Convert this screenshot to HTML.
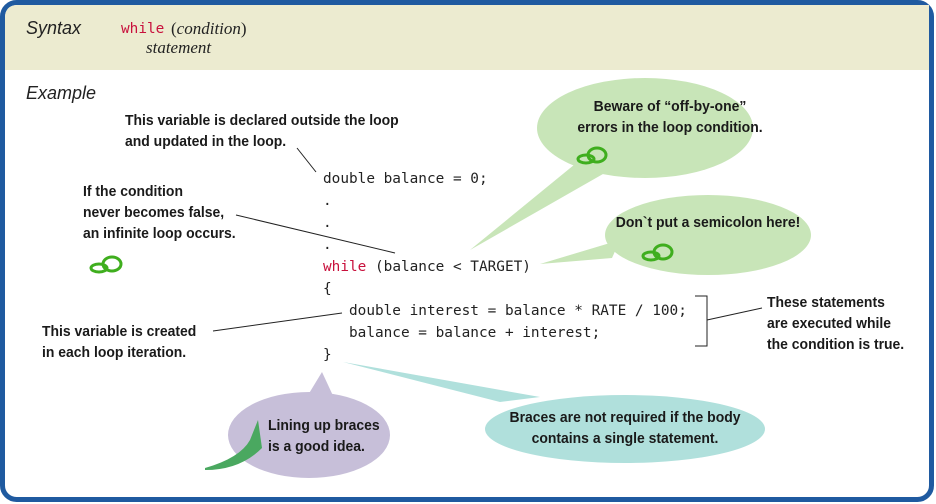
<!DOCTYPE html>
<html><head><meta charset="utf-8"><style>
body{margin:0;width:936px;height:504px;overflow:hidden;background:#fff;position:relative;font-family:"Liberation Sans",sans-serif}
.t{position:absolute;font-family:"Liberation Sans",sans-serif;font-weight:bold;font-size:15px;line-height:21px;color:#1a1a1a;white-space:nowrap;transform:scaleX(0.93);transform-origin:0 0}
.ct{text-align:center;transform-origin:50% 0}
.c{position:absolute;font-family:"DejaVu Sans Mono","Liberation Mono",monospace;font-size:14.4px;color:#222;white-space:pre}
.s{position:absolute;font-family:"Liberation Serif",serif;font-style:italic;font-size:17px;color:#222}
.h{position:absolute;font-family:"Liberation Sans",sans-serif;font-style:italic;font-size:18px;color:#222}
</style></head><body>
<svg width="936" height="504" style="position:absolute;left:0;top:0">
<rect x="2.5" y="2.5" width="929" height="497" rx="14" fill="#fff" stroke="#1f5aa0" stroke-width="5"/>
<path d="M5,70 V18 Q5,5 18,5 H929 V70 Z" fill="#ecebd0"/>
<g fill="#c8e5b8">
<ellipse cx="645" cy="128" rx="108" ry="50"/>
<polygon points="580,160 610,170 470,250"/>
<ellipse cx="708" cy="235" rx="103" ry="40"/>
<polygon points="620,240 612,258 540,264"/>
</g>
<g fill="#c7bfd9"><ellipse cx="309" cy="435" rx="81" ry="43"/><polygon points="305,400 335,400 322,372"/></g>
<g fill="#b0e0dc"><ellipse cx="625" cy="429" rx="140" ry="34"/><polygon points="343,362 500,402 540,397"/></g>
<g stroke="#222" stroke-width="1" fill="none">
<line x1="297" y1="148" x2="316" y2="172"/>
<line x1="236" y1="215" x2="395" y2="253"/>
<line x1="213" y1="331" x2="342" y2="313"/>
<path d="M695,296 H707 V346 H695"/>
<line x1="707" y1="320" x2="762" y2="308"/>
</g>
<g fill="none" stroke="#3fae1e" stroke-width="3">
<ellipse cx="597" cy="155" rx="9" ry="7"/><ellipse cx="586" cy="159" rx="8" ry="4"/>
<ellipse cx="663" cy="252" rx="9" ry="7"/><ellipse cx="651" cy="256" rx="8" ry="4"/>
<ellipse cx="112" cy="264" rx="9" ry="7"/><ellipse cx="99" cy="268" rx="8" ry="4"/>
</g>
<path d="M205,468 Q240,458 250,440 L258,420 L262,448 Q240,470 205,470Z" fill="#4aa860"/>
</svg>
<div class="h" style="left:26px;top:18px">Syntax</div>
<div class="c" style="left:121px;top:21px;color:#c8103c">while</div>
<div class="s" style="left:171px;top:19px;font-style:normal">(<i>condition</i>)</div>
<div class="s" style="left:146px;top:38px">statement</div>
<div class="h" style="left:26px;top:83px">Example</div>
<div class="t" style="left:125px;top:110px">This variable is declared outside the loop<br>and updated in the loop.</div>
<div class="t" style="left:83px;top:181px">If the condition<br>never becomes false,<br>an infinite loop occurs.</div>
<div class="t" style="left:42px;top:321px">This variable is created<br>in each loop iteration.</div>
<div class="t" style="left:767px;top:292px">These statements<br>are executed while<br>the condition is true.</div>
<div class="t ct" style="left:545px;width:250px;top:96px">Beware of “off-by-one”<br>errors in the loop condition.</div>
<div class="t ct" style="left:608px;width:200px;top:212px">Don`t put a semicolon here!</div>
<div class="t" style="left:268px;top:415px">Lining up braces<br>is a good idea.</div>
<div class="t ct" style="left:485px;width:280px;top:407px">Braces are not required if the body<br>contains a single statement.</div>
<div class="c" style="left:323px;top:168px;line-height:22px">double balance = 0;
.
.
.
<span style="color:#c8103c">while</span> (balance &lt; TARGET)
{
   double interest = balance * RATE / 100;
   balance = balance + interest;
}</div>
</body></html>
